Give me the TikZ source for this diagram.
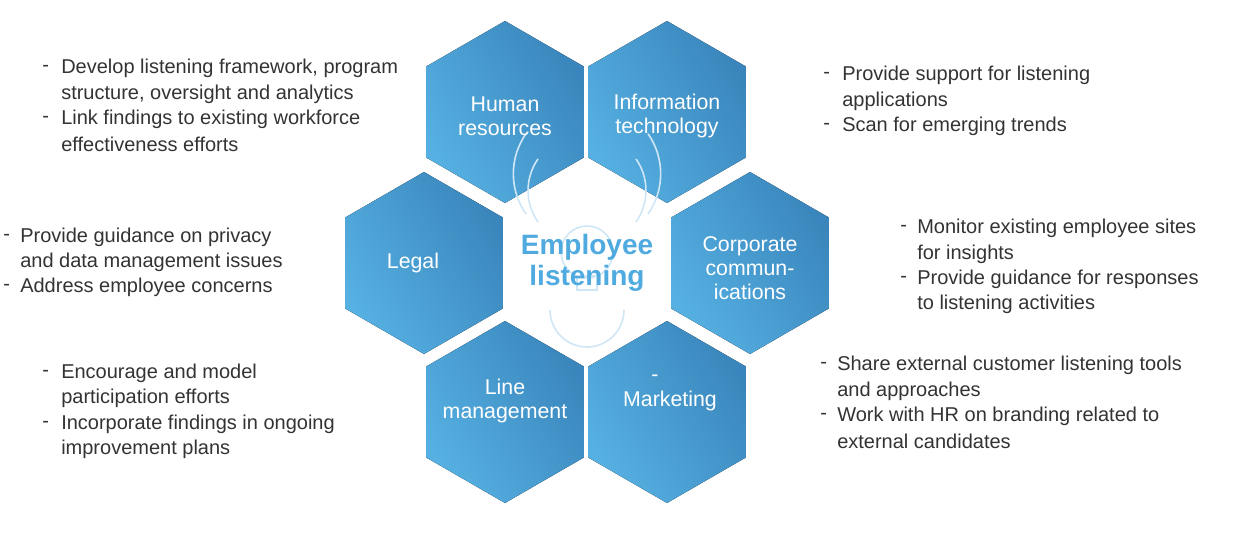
\documentclass[tikz,border=0pt]{standalone}
\usepackage{fontspec}
\setmainfont{Liberation Sans}
\definecolor{hexdark}{HTML}{3A86BC}
\definecolor{hexlight}{HTML}{56B0E2}
\definecolor{iconblue}{HTML}{CFE6F6}
\definecolor{titleblue}{HTML}{4FAADF}
\definecolor{bodytext}{HTML}{333333}
\tikzset{
  hexcell/.style={left color=hexdark, right color=hexlight, shading angle=300},
  hexlabel/.style={text=white, align=center, font=\fontsize{16}{18}\selectfont},
  note/.style={anchor=west, text=bodytext, font=\fontsize{15}{17}\selectfont, inner sep=0pt},
}
\newcommand{\hexat}[2]{%
  \fill[hexcell] (#1,#2) +(30:91) -- +(90:91) -- +(150:91) -- +(210:91) -- +(270:91) -- +(330:91) -- cycle;}
\begin{document}
\begin{tikzpicture}[x=0.75pt, y=-0.75pt]
    \useasboundingbox (0,0) rectangle (1234,546);

    % Hexagons
    \foreach \cx/\cy in {505/112, 667/112, 424/263, 750/263, 505/412, 667/412}
        {\hexat{\cx}{\cy}}

    % Center icon
    \begin{scope}[iconblue, line width=1.2pt]
        \draw (587,252) circle (26);
        \draw (550,310) arc[start angle=180, end angle=0, radius=37];
        \draw (577,276) rectangle (597,290);
        \draw (538,222) arc[start angle=145, end angle=215, radius=55];
        \draw (526,214) arc[start angle=145, end angle=215, radius=70];
        \draw (636,222) arc[start angle=35, end angle=-35, radius=55];
        \draw (648,214) arc[start angle=35, end angle=-35, radius=70];
    \end{scope}

    % Hex labels
    \node[hexlabel] (hr) at (505,116) {Human\\resources};
    \node[hexlabel] (it) at (667,116) {Information\\technology};
    \node[hexlabel] (legal) at (413,263) {Legal};
    \node[hexlabel] (cc) at (750,268) {Corporate\\commun-\\ications};
    \node[hexlabel] (lm) at (505,401) {Line\\management};
    \node[hexlabel] (mkt) at (670,401) {Marketing};
    \node[text=white, font=\fontsize{16}{18}\selectfont] (mktdash) at (655,378) {-};
    \node[text=titleblue, align=center, font=\fontsize{21}{23}\selectfont\bfseries] (emp) at (587,263) {Employee\\listening};

    % Notes
    \foreach \y/\d/\t [count=\i] in {68/-/{Develop listening framework, program}, 94//{structure, oversight and analytics}, 119/-/Link findings to existing workforce, 144//effectiveness efforts}
        {\node[note] (hrd\i) at (42,\y) {\d}; \node[note] (hrt\i) at (61,\y) {\t};}
    \foreach \y/\d/\t [count=\i] in {75/-/Provide support for listening, 101//applications, 126/-/Scan for emerging trends}
        {\node[note] (itd\i) at (823,\y) {\d}; \node[note] (itt\i) at (842,\y) {\t};}
    \foreach \y/\d/\t [count=\i] in {237/-/Provide guidance on privacy, 262//and data management issues, 287/-/Address employee concerns}
        {\node[note] (lgd\i) at (3,\y) {\d}; \node[note] (lgt\i) at (20,\y) {\t};}
    \foreach \y/\d/\t [count=\i] in {228/-/Monitor existing employee sites, 254//for insights, 279/-/Provide guidance for responses, 304//to listening activities}
        {\node[note] (ccd\i) at (900,\y) {\d}; \node[note] (cct\i) at (917,\y) {\t};}
    \foreach \y/\d/\t [count=\i] in {373/-/Encourage and model, 398//participation efforts, 424/-/Incorporate findings in ongoing, 449//improvement plans}
        {\node[note] (lmd\i) at (42,\y) {\d}; \node[note] (lmt\i) at (61,\y) {\t};}
    \foreach \y/\d/\t [count=\i] in {365/-/Share external customer listening tools, 391//and approaches, 416/-/Work with HR on branding related to, 441//external candidates}
        {\node[note] (mkd\i) at (820,\y) {\d}; \node[note] (mkt\i) at (837,\y) {\t};}
\end{tikzpicture}
\end{document}
